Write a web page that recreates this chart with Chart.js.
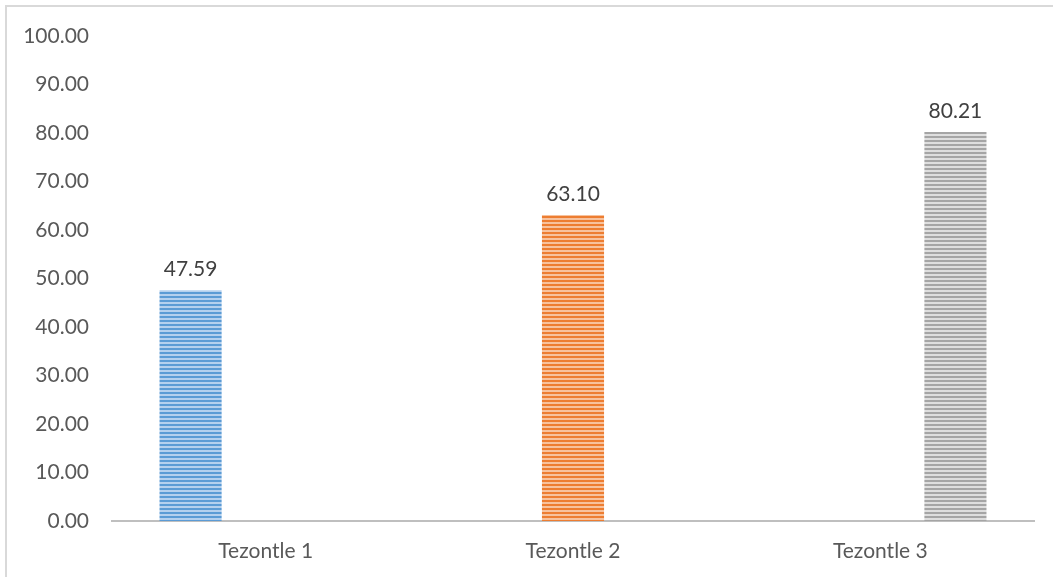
<!doctype html>
<html lang="es">
<head>
  <meta charset="utf-8">
  <title>Tezontle</title>
  <script src="https://cdn.jsdelivr.net/npm/chart.js@4"></script>
  <style>
    html, body { margin: 0; padding: 0; background: #fff; overflow: hidden; }
    #wrap { position: relative; width: 1053px; height: 577px; }
    #frame { position: absolute; left: 5px; top: 5px; width: 1100px; height: 600px;
             border-top: 2px solid #d9d9d9; border-left: 2px solid #d9d9d9; pointer-events: none; }
    #box { position: absolute; left: 0; top: 0; width: 1053px; height: 577px; }
  </style>
</head>
<body>
  <div id="wrap">
    <div id="box"><canvas id="chart"></canvas></div>
    <div id="frame"></div>
  </div>
  <script>
    const categories = ['Tezontle 1', 'Tezontle 2', 'Tezontle 3'];
    const values = [47.59, 63.10, 80.21];
    const yTicks = [0, 10, 20, 30, 40, 50, 60, 70, 80, 90, 100];
    const barColors = [['#5b9bd5', '#b4d0ee'], ['#ed7d31', '#f7c29d'], ['#a5a5a5', '#dedede']];
    const FONT = 'Lato, "Open Sans", sans-serif';

    // horizontal stripe fill for each bar
    function stripes(dark, light) {
      const c = document.createElement('canvas');
      c.width = 1; c.height = 4;
      const g = c.getContext('2d');
      g.fillStyle = dark; g.fillRect(0, 0, 1, 2);
      g.fillStyle = light; g.fillRect(0, 2, 1, 2);
      return g.createPattern(c, 'repeat');
    }

    const datasets = categories.map((name, i) => ({
      label: name,
      data: values.map((v, j) => j === i ? v : null),
      backgroundColor: stripes(barColors[i][0], barColors[i][1]),
      borderWidth: 0,
      categoryPercentage: 0.733,
      barPercentage: 0.827
    }));

    const valueLabels = {
      id: 'valueLabels',
      afterDatasetsDraw(chart) {
        const ctx = chart.ctx;
        ctx.save();
        ctx.font = '21px ' + FONT;
        ctx.fillStyle = '#404040';
        ctx.textAlign = 'center';
        ctx.textBaseline = 'bottom';
        chart.data.datasets.forEach((ds, i) => {
          const meta = chart.getDatasetMeta(i);
          ds.data.forEach((v, j) => {
            if (v == null) return;
            const bar = meta.data[j];
            ctx.fillText(v.toFixed(2), bar.x, bar.y - 10);
          });
        });
        ctx.restore();
      }
    };

    new Chart(document.getElementById('chart'), {
      type: 'bar',
      data: { labels: categories, datasets },
      plugins: [valueLabels],
      options: {
        responsive: true,
        maintainAspectRatio: false,
        animation: false,
        skipNull: false,
        layout: { padding: { top: 36, right: 19, bottom: 0, left: 0 } },
        plugins: { legend: { display: false }, tooltip: { enabled: false } },
        scales: {
          x: {
            grid: { display: false },
            border: { display: true, color: '#bfbfbf', width: 2 },
            ticks: { color: '#595959', padding: 10, font: { family: FONT, size: 21 } },
            afterFit(s) { s.height = 56; }
          },
          y: {
            min: 0,
            max: 100,
            afterBuildTicks(s) { s.ticks = yTicks.map(v => ({ value: v })); },
            grid: { display: false },
            border: { display: false },
            ticks: {
              color: '#595959',
              padding: 15,
              font: { family: FONT, size: 21 },
              callback: v => Number(v).toFixed(2)
            },
            afterFit(s) { s.width = 112; }
          }
        }
      }
    });
  </script>
</body>
</html>
